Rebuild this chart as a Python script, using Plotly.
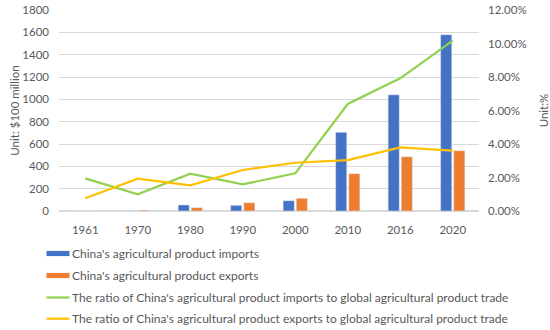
import plotly.graph_objects as go

years = ["1961", "1970", "1980", "1990", "2000", "2010", "2016", "2020"]
imports = [1, 2, 54, 51, 92, 705, 1040, 1579]
exports = [2, 8, 30, 74, 114, 334, 486, 540]
import_ratio = [1.95, 1.00, 2.23, 1.59, 2.25, 6.39, 7.92, 10.17]
export_ratio = [0.76, 1.93, 1.53, 2.45, 2.88, 3.04, 3.80, 3.60]

series_names = [
    "China's agricultural product imports",
    "China's agricultural product exports",
    "The ratio of China's agricultural product imports to global agricultural product trade",
    "The ratio of China's agricultural product exports to global agricultural product trade",
]
series_colors = ["#4472C4", "#ED7D31", "#92D050", "#FFC000"]
series_kinds = ["bar", "bar", "line", "line"]

left_ticks = list(range(0, 1801, 200))
right_ticks = [0, 2, 4, 6, 8, 10, 12]
right_labels = [f"{v:.2f}%" for v in right_ticks]

FONT = "Lato"
TXT = "#595959"
W, H = 550, 330
ML, MR, MT, MB = 59, 71, 10, 119
PW, PH = W - ML - MR, H - MT - MB


def px_to_paper(px, py):
    return (px - ML) / PW, (H - MB - py) / PH


fig = go.Figure()
fig.add_trace(go.Bar(x=years, y=imports, name=series_names[0],
                     marker_color=series_colors[0], yaxis="y"))
fig.add_trace(go.Bar(x=years, y=exports, name=series_names[1],
                     marker_color=series_colors[1], yaxis="y"))
fig.add_trace(go.Scatter(x=years, y=import_ratio, mode="lines", name=series_names[2],
                         line=dict(color=series_colors[2], width=2.2), yaxis="y2"))
fig.add_trace(go.Scatter(x=years, y=export_ratio, mode="lines", name=series_names[3],
                         line=dict(color=series_colors[3], width=2.2), yaxis="y2"))

# legend drawn below the chart (rows at fixed pixel positions)
row_y = [253.5, 275.5, 297.5, 318.7]
sw_x0, sw_x1, text_x = 46.5, 69.5, 69.5
shapes, annotations = [], []
for name, color, kind, ry in zip(series_names, series_colors, series_kinds, row_y):
    x0, y0 = px_to_paper(sw_x0, ry)
    x1, _ = px_to_paper(sw_x1, ry)
    if kind == "bar":
        _, ya = px_to_paper(0, ry - 2.6)
        _, yb = px_to_paper(0, ry + 2.6)
        shapes.append(dict(type="rect", xref="paper", yref="paper", x0=x0, x1=x1,
                           y0=yb, y1=ya, fillcolor=color, line=dict(width=0)))
    else:
        shapes.append(dict(type="line", xref="paper", yref="paper", x0=x0, x1=x1,
                           y0=y0, y1=y0, line=dict(color=color, width=2.2)))
    tx, ty = px_to_paper(text_x, ry)
    annotations.append(dict(text=name, xref="paper", yref="paper", x=tx, y=ty,
                            xanchor="left", yanchor="middle", showarrow=False,
                            font=dict(size=12, color=TXT, family=FONT)))

fig.update_layout(
    width=W, height=H,
    margin=dict(l=ML, r=MR, t=MT, b=MB),
    paper_bgcolor="white", plot_bgcolor="white",
    font=dict(family=FONT, size=12, color=TXT),
    barmode="group", bargap=0.5, bargroupgap=0.15,
    showlegend=False,
    shapes=shapes, annotations=annotations,
    xaxis=dict(type="category", showgrid=False, showline=False, ticks="",
               automargin=False, ticklabelstandoff=10,
               tickfont=dict(size=11.5, color=TXT)),
    yaxis=dict(range=[0, 1800], tickvals=left_ticks, showgrid=True, gridcolor="#D9D9D9",
               gridwidth=1, zeroline=True, zerolinecolor="#D9D9D9", showline=False,
               automargin=False, ticklabelstandoff=9,
               tickfont=dict(size=11.5, color=TXT),
               title=dict(text="Unit: $100 million", font=dict(size=11.5, color=TXT), standoff=0)),
    yaxis2=dict(range=[0, 12], tickvals=right_ticks, ticktext=right_labels, overlaying="y",
                side="right", showgrid=False, zeroline=False, showline=False,
                automargin=False, ticklabelstandoff=8,
                tickfont=dict(size=11.5, color=TXT),
                title=dict(text="Unit:%", font=dict(size=11.5, color=TXT), standoff=14)),
)

fig.write_html("out.html", config={"displayModeBar": False},
               post_script="document.body.style.margin='0';")
